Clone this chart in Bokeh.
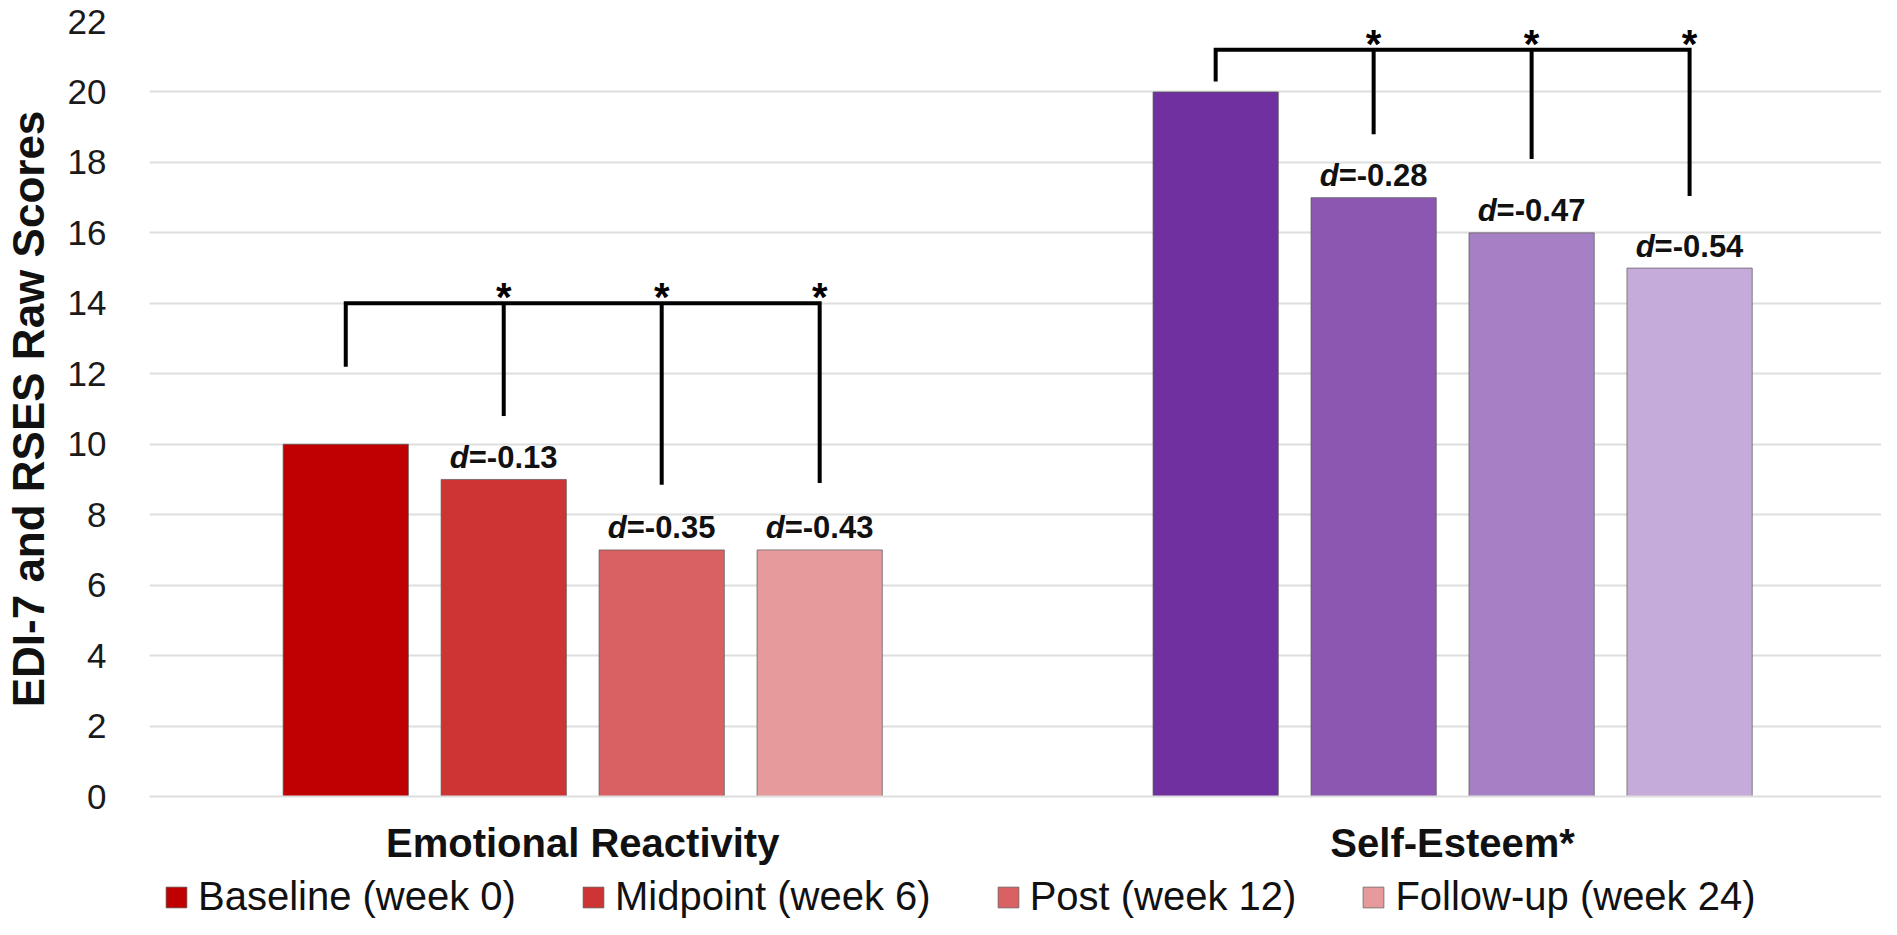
from bokeh.plotting import figure
from bokeh.layouts import column
from bokeh.models import ColumnDataSource, Range1d, FixedTicker, Legend, LegendItem
from bokeh.core.properties import value
from bokeh.embed import file_html
from bokeh.resources import INLINE

# ---------------- data ----------------
categories = ["Emotional Reactivity", "Self-Esteem*"]
series = ["Baseline (week 0)", "Midpoint (week 6)", "Post (week 12)", "Follow-up (week 24)"]
er_scores = [10, 9, 7, 7]
se_scores = [20, 17, 16, 15]
er_d = [None, -0.13, -0.35, -0.43]
se_d = [None, -0.28, -0.47, -0.54]
er_colors = ["#C00000", "#CD3434", "#D96163", "#E69A9B"]
se_colors = ["#7030A0", "#8B57B1", "#A680C4", "#C5ABD9"]
# significance brackets (data units)
er_bracket_top = 14.0
er_bracket_ends = [12.2, 10.8, 8.85, 8.9]
se_bracket_top = 21.2
se_bracket_ends = [20.3, 18.8, 18.1, 17.05]
y_ticks = list(range(0, 23, 2))

# ---------------- layout ----------------
FONT = "Liberation Sans"
pitch = 0.1816
bar_w = 0.144
offsets = [(i - 1.5) * pitch for i in range(4)]

p = figure(width=1881, height=867, output_backend="svg", toolbar_location=None,
           x_range=Range1d(-0.498, 1.493), y_range=Range1d(0, 22),
           min_border_left=138, min_border_right=0, min_border_top=21,
           min_border_bottom=0)
p.outline_line_color = None
p.background_fill_color = "white"
p.border_fill_color = "white"
p.xgrid.grid_line_color = None
p.ygrid.grid_line_color = "#dedede"
p.ygrid.grid_line_width = 2
p.ygrid.ticker = FixedTicker(ticks=y_ticks)

# y axis
p.yaxis.ticker = FixedTicker(ticks=y_ticks)
p.yaxis.axis_line_color = None
p.yaxis.major_tick_line_color = None
p.yaxis.minor_tick_line_color = None
p.yaxis.major_label_standoff = 37
p.yaxis.major_label_text_font = FONT
p.yaxis.major_label_text_font_size = "35px"
p.yaxis.major_label_text_color = "#1a1a1a"
p.yaxis.axis_label = "EDI-7 and RSES Raw Scores"
p.yaxis.axis_label_text_font = FONT
p.yaxis.axis_label_text_font_size = "44px"
p.yaxis.axis_label_text_font_style = "bold"
p.yaxis.axis_label_text_color = "#111111"
p.yaxis.axis_label_standoff = 12

# x axis
p.xaxis.ticker = FixedTicker(ticks=list(range(len(categories))))
p.xaxis.major_label_overrides = {i: c for i, c in enumerate(categories)}
p.xaxis.axis_line_color = "#dedede"
p.xaxis.axis_line_width = 2
p.xaxis.major_tick_line_color = None
p.xaxis.minor_tick_line_color = None
p.xaxis.major_label_text_font = FONT
p.xaxis.major_label_text_font_size = "40px"
p.xaxis.major_label_text_font_style = "bold"
p.xaxis.major_label_text_color = "#111111"
p.xaxis.major_label_standoff = 18
p.xaxis.axis_label_standoff = 0

# bars
scores = [er_scores, se_scores]
colors = [er_colors, se_colors]
for i, name in enumerate(series):
    src = ColumnDataSource(dict(
        x=[c + offsets[i] for c in range(len(categories))],
        top=[scores[c][i] for c in range(len(categories))],
        color=[colors[c][i] for c in range(len(categories))],
    ))
    p.vbar(x="x", top="top", width=bar_w, source=src, fill_color="color",
           line_color="#5a5a5a", line_width=1, line_alpha=0.7)

# effect-size labels
d_vals = [er_d, se_d]
dx, dy, dlab = [], [], []
for c in range(len(categories)):
    for i in range(4):
        if d_vals[c][i] is not None:
            dx.append(c + offsets[i])
            dy.append(scores[c][i])
            dlab.append("=%.2f" % d_vals[c][i])
dsrc = ColumnDataSource(dict(x=dx, y=dy, lab=dlab, d=["d"] * len(dx)))
p.text(x="x", y="y", text="d", source=dsrc, text_font=value(FONT),
       text_font_size="31px", text_font_style="bold italic", text_align="right",
       text_baseline="alphabetic", x_offset=-35, y_offset=-22, text_color="#111111")
p.text(x="x", y="y", text="lab", source=dsrc, text_font=value(FONT),
       text_font_size="31px", text_font_style="bold", text_align="left",
       text_baseline="alphabetic", x_offset=-35, y_offset=-22, text_color="#111111")

# significance brackets
tops = [er_bracket_top, se_bracket_top]
ends = [er_bracket_ends, se_bracket_ends]
mx, my = [], []
sx0, sy0, sy1 = [], [], []
stx, sty = [], []
for c in range(len(categories)):
    xs = [c + o for o in offsets]
    mx.append([xs[0], xs[0], xs[3], xs[3]])
    my.append([ends[c][0], tops[c], tops[c], ends[c][3]])
    for i in (1, 2):
        sx0.append(xs[i]); sy0.append(tops[c]); sy1.append(ends[c][i])
    for i in (1, 2, 3):
        stx.append(xs[i]); sty.append(tops[c])
p.multi_line(xs=mx, ys=my, line_color="black", line_width=4, line_join="miter")
p.segment(x0=sx0, y0=sy0, x1=sx0, y1=sy1, line_color="black", line_width=4)
p.text(x=stx, y=sty, text=["*"] * len(stx), text_font=value(FONT),
       text_font_size="40px", text_font_style="bold", text_align="center",
       text_baseline="alphabetic", y_offset=-6, text_color="black")

# ---------------- legend strip ----------------
lf = figure(width=1881, height=52, output_backend="svg", toolbar_location=None,
            x_range=Range1d(0, 1), y_range=Range1d(0, 1),
            x_axis_location=None, y_axis_location=None, min_border=0)
lf.outline_line_color = None
lf.grid.visible = False
items = []
for i, name in enumerate(series):
    r = lf.vbar(x=[i], top=[er_scores[i]], width=0.1, fill_color=er_colors[i],
                line_color="#5a5a5a", line_width=1, line_alpha=0.7, visible=False)
    items.append(LegendItem(label=name, renderers=[r]))
legend = Legend(items=items, orientation="horizontal", location=(14, 0),
                label_text_font=FONT, label_text_font_size="40px",
                label_text_color="#111111", glyph_width=26, glyph_height=26,
                label_standoff=9, spacing=64, padding=0, margin=0,
                inactive_fill_alpha=0, click_policy="none",
                border_line_color=None, background_fill_alpha=0)
lf.add_layout(legend, "center")

layout = column(p, lf, spacing=0)
open("out.html", "w").write(file_html(layout, INLINE))
